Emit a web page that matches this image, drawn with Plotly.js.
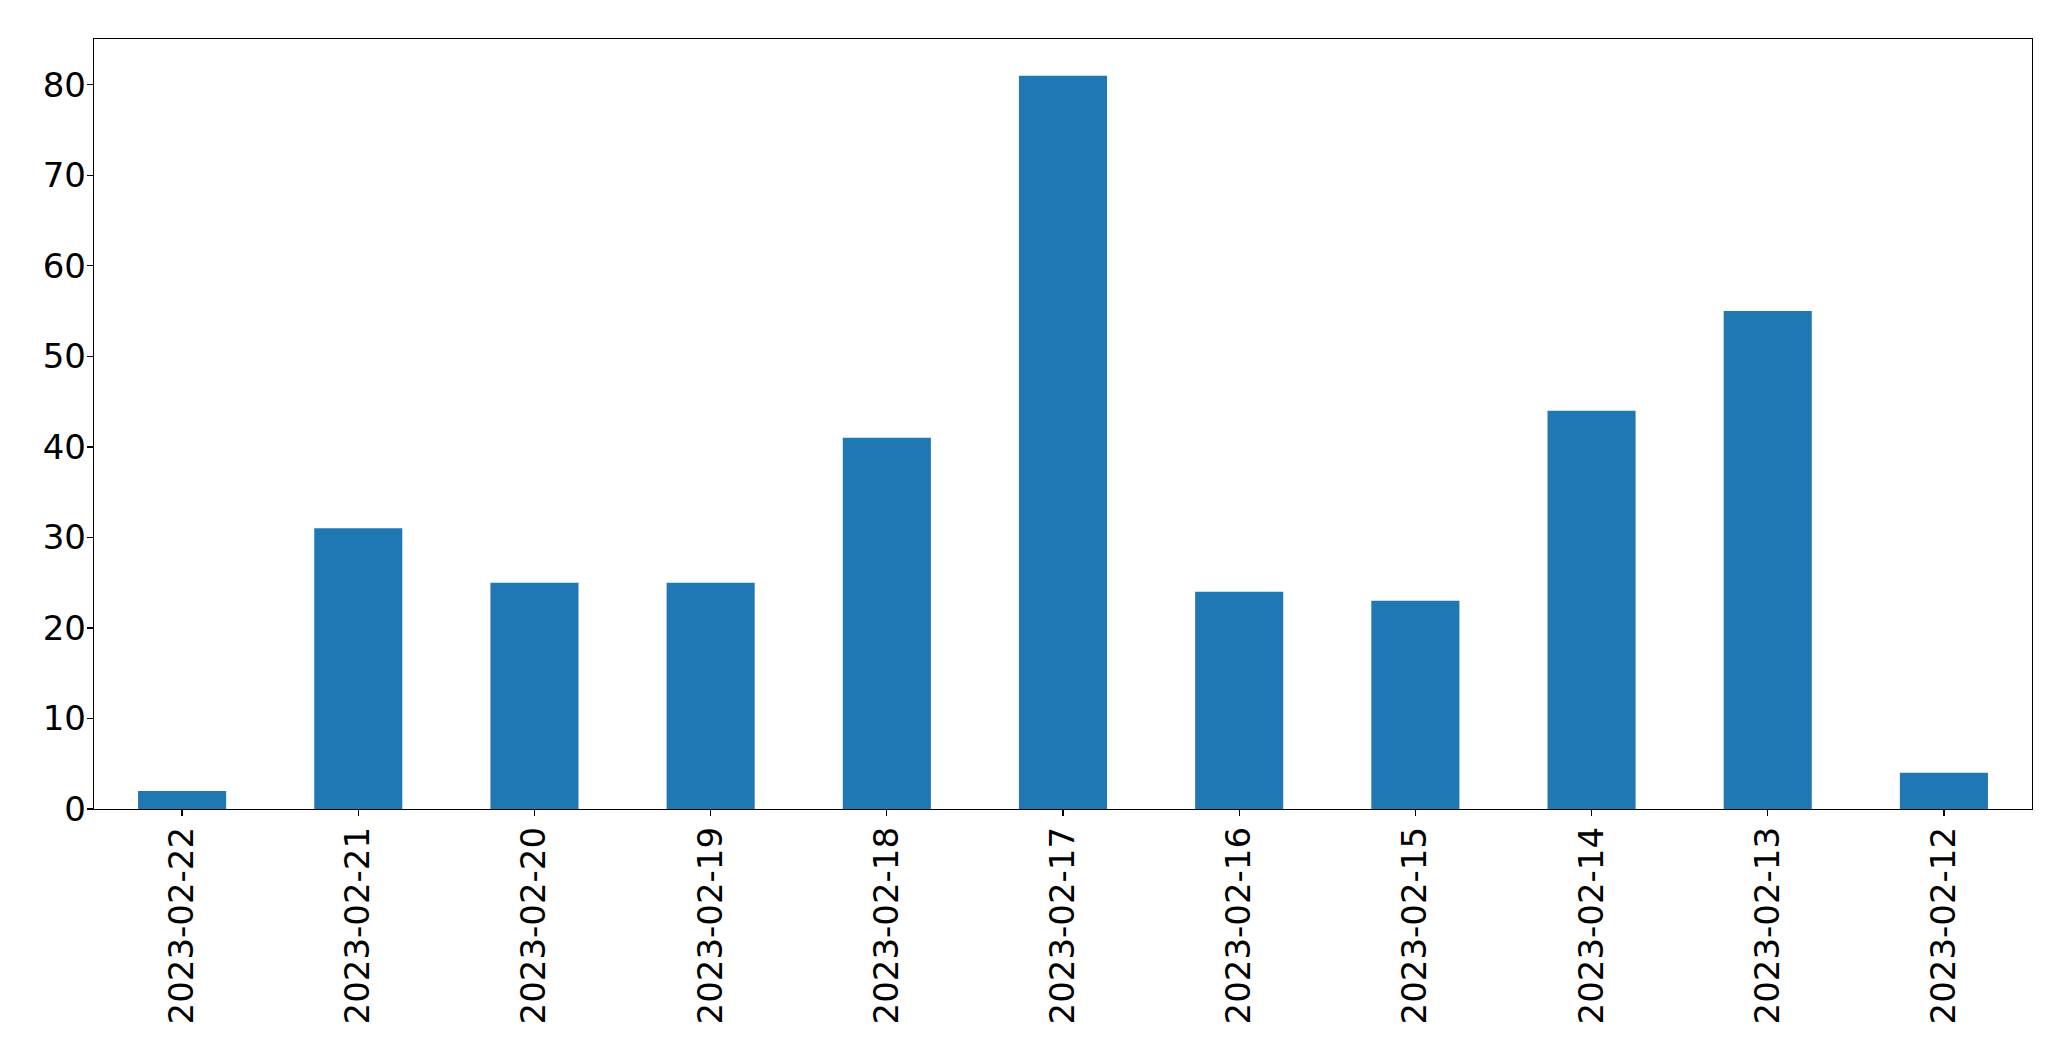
<!DOCTYPE html>
<html>
<head>
<meta charset="utf-8">
<script src="https://cdn.plot.ly/plotly-3.0.1.min.js"></script>
<style>html,body{margin:0;padding:0;background:#fff;}#chart{width:2071px;height:1061px;}</style>
</head>
<body>
<div id="chart"></div>
<script>
const dates = ["2023-02-22","2023-02-21","2023-02-20","2023-02-19","2023-02-18","2023-02-17","2023-02-16","2023-02-15","2023-02-14","2023-02-13","2023-02-12"];
const counts = [2, 31, 25, 25, 41, 81, 24, 23, 44, 55, 4];
const yTicks = [0, 10, 20, 30, 40, 50, 60, 70, 80];

const trace = {
  type: 'bar',
  x: dates,
  y: counts,
  marker: {color: '#1f77b4'},
  width: 0.5,
  hoverinfo: 'x+y'
};

const layout = {
  width: 2071,
  height: 1061,
  margin: {l: 94, r: 39, t: 39, b: 252, pad: 0},
  paper_bgcolor: '#ffffff',
  plot_bgcolor: '#ffffff',
  font: {family: 'DejaVu Sans, sans-serif', size: 34, color: '#000'},
  showlegend: false,
  xaxis: {
    type: 'category',
    categoryorder: 'array',
    categoryarray: dates,
    range: [-0.5, 10.5],
    tickangle: -90,
    ticks: 'outside',
    ticklen: 6,
    tickwidth: 1.3,
    tickcolor: '#000',
    showline: true,
    linecolor: '#000',
    linewidth: 1.3,
    mirror: true,
    showgrid: false,
    zeroline: false,
    ticklabelstandoff: -3,
    tickfont: {family: 'DejaVu Sans, sans-serif', size: 34, color: '#000'}
  },
  yaxis: {
    range: [0, 85.05],
    tickvals: yTicks,
    ticks: 'outside',
    ticklen: 6,
    tickwidth: 1.3,
    tickcolor: '#000',
    showline: true,
    linecolor: '#000',
    linewidth: 1.3,
    mirror: true,
    showgrid: false,
    zeroline: false,
    ticklabelstandoff: -6,
    tickfont: {family: 'DejaVu Sans, sans-serif', size: 34, color: '#000'}
  }
};

Plotly.newPlot('chart', [trace], layout, {displayModeBar: false, staticPlot: true});
</script>
</body>
</html>
